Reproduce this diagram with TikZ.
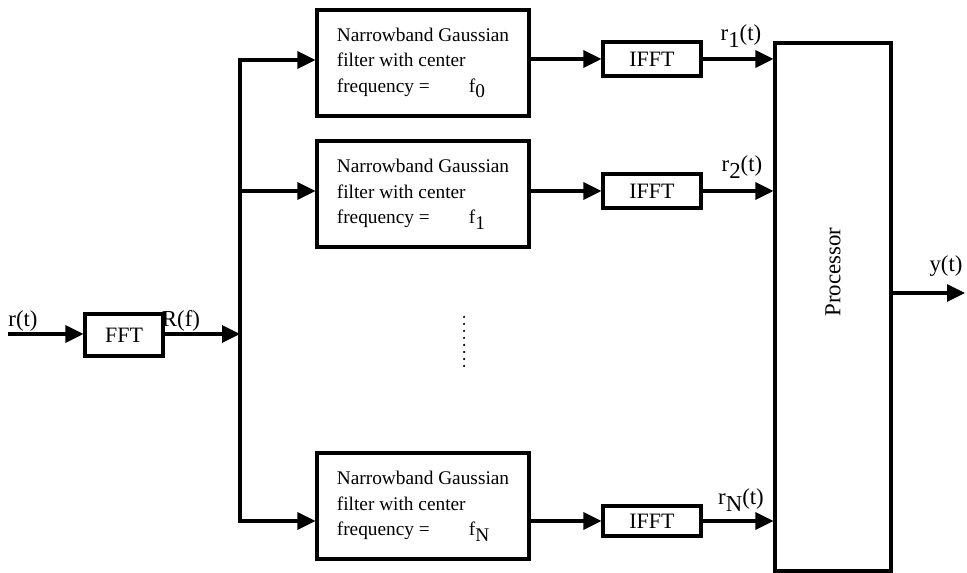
\documentclass[tikz,border=0pt]{standalone}
\usepackage{fontspec}
\setmainfont{Liberation Serif}
\usetikzlibrary{arrows.meta, calc}

\newcommand{\lowsub}[1]{\raisebox{-0.6ex}{#1}}

\tikzset{
  blk/.style={draw, line width=1.8pt, inner sep=0pt, font=\fontsize{12.5}{15}\selectfont},
  filt/.style={blk, minimum width=4.24cm, minimum height=2.12cm, align=left, font=\fontsize{11}{14.6}\selectfont},
  sig/.style={line width=1.8pt, -{Triangle[length=3.6mm, width=3.4mm]}},
  lbl/.style={font=\fontsize{13}{15}\selectfont, inner sep=0pt},
}

\begin{document}
\begin{tikzpicture}[x=0.02cm, y=-0.02cm, line width=1.8pt]
    \useasboundingbox (0,0) rectangle (967,573);

    % input side
    \coordinate (in) at (8,334);
    \node[blk, minimum width=1.56cm, minimum height=0.84cm] (fft) at (124,335) {FFT};
    \coordinate (bus) at (240,334);
    \coordinate (b0) at (240,60);
    \coordinate (b1) at (240,191);
    \coordinate (bN) at (240,521);

    % filter bank
    \node[filt] (f0) at (423,63) {Narrowband Gaussian\\filter with center\\frequency =\hspace{0.78cm}f\lowsub{0}};
    \node[filt] (f1) at (423,194) {Narrowband Gaussian\\filter with center\\frequency =\hspace{0.78cm}f\lowsub{1}};
    \node[filt] (fN) at (423,506) {Narrowband Gaussian\\filter with center\\frequency =\hspace{0.78cm}f\lowsub{N}};
    \foreach \k in {0,...,7}
        \fill (464,{317+7*\k}) circle (0.025cm);

    \node[blk, minimum width=1.96cm, minimum height=0.68cm] (i0) at (652,59) {IFFT};
    \node[blk, minimum width=1.96cm, minimum height=0.68cm] (i1) at (652,191) {IFFT};
    \node[blk, minimum width=1.96cm, minimum height=0.6cm] (iN) at (652,521) {IFFT};

    \node[blk, minimum width=2.32cm, minimum height=10.56cm] (proc) at (833,307) {};
    \node[lbl, rotate=90] (proclbl) at (833,272) {Processor};
    \coordinate (out) at (965,293);

    % connectors
    \draw[sig] (in) -- (in -| fft.west);
    \draw[sig] (fft.east |- bus) -- (bus);
    \draw[line cap=rect] (b0) -- (bN);
    \draw[sig] (b0) -- (b0 -| f0.west);
    \draw[sig] (b1) -- (b1 -| f1.west);
    \draw[sig] (bN) -- (bN -| fN.west);
    \draw[sig] (f0.east |- i0) -- (i0.west);
    \draw[sig] (f1.east |- i1) -- (i1.west);
    \draw[sig] (fN.east |- iN) -- (iN.west);
    \draw[sig] (i0.east) -- (i0 -| proc.west);
    \draw[sig] (i1.east) -- (i1 -| proc.west);
    \draw[sig] (iN.east) -- (iN -| proc.west);
    \draw[sig] (proc.east |- out) -- (out);

    % signal names
    \node[lbl] (rt) at (23,321) {r(t)};
    \node[lbl] (Rf) at (181,321) {R(f)};
    \node[lbl] (r1) at (741,36) {r\lowsub{1}(t)};
    \node[lbl] (r2) at (742,167) {r\lowsub{2}(t)};
    \node[lbl] (rN) at (741,500) {r\lowsub{N}(t)};
    \node[lbl] (yt) at (946,266) {y(t)};
\end{tikzpicture}
\end{document}
